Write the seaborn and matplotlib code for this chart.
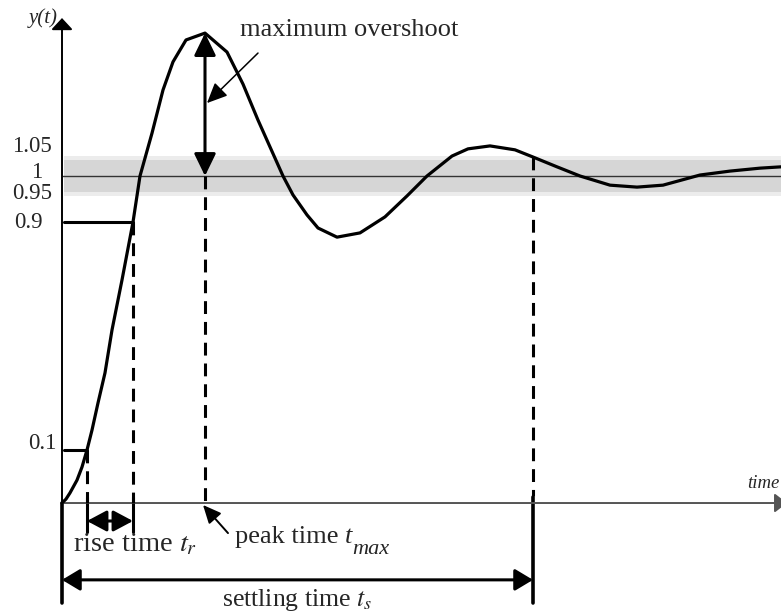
import numpy as np
import pandas as pd
import matplotlib
matplotlib.use("Agg")
import matplotlib.pyplot as plt
import seaborn as sns
from matplotlib.transforms import offset_copy

# ---------------- data ----------------
time = [0.00, 0.04, 0.08, 0.15, 0.20, 0.25, 0.30, 0.36, 0.43, 0.50, 0.60, 0.71,
        0.78, 0.90, 1.01, 1.11, 1.24, 1.43, 1.65, 1.81, 1.96, 2.21, 2.31, 2.45,
        2.56, 2.75, 2.98, 3.23, 3.45, 3.65, 3.90, 4.06, 4.28, 4.53, 4.71, 4.95,
        5.18, 5.48, 5.75, 6.01, 6.38, 6.68, 6.98, 7.19]
response = [0.000, 0.012, 0.031, 0.070, 0.110, 0.162, 0.223, 0.306, 0.398, 0.529,
            0.682, 0.859, 1.000, 1.131, 1.263, 1.349, 1.416, 1.437, 1.379, 1.281,
            1.171, 1.000, 0.942, 0.881, 0.841, 0.813, 0.826, 0.875, 0.939, 1.000,
            1.061, 1.083, 1.092, 1.080, 1.058, 1.028, 1.000, 0.972, 0.966, 0.972,
            1.003, 1.015, 1.024, 1.028]

final_value = 1.0
band_low, band_high = 0.95, 1.05
level_10 = 0.162      # drawn height of the "0.1" level
level_90 = 0.859      # drawn height of the "0.9" level
t_10, t_90 = 0.25, 0.71
t_peak, y_peak = 1.43, 1.437
t_settle, y_settle = 4.71, 1.058

tick_labels = ["1.05", "1", "0.95", "0.9", "0.1"]
tick_label_y = [1.089, 1.010, 0.945, 0.859, 0.183]
tick_label_x = [-0.10, -0.20, -0.10, -0.19, -0.05]   # right edges

# ---------------- figure ----------------
sns.set_style("white")
plt.rcParams["font.family"] = ["Liberation Serif", "DejaVu Serif"]
plt.rcParams["mathtext.fontset"] = "stix"

fig = plt.figure(figsize=(7.81, 6.14), dpi=100)
ax = fig.add_axes([0, 0, 1, 1])
ax.set_xlim(-0.62, 7.19)
ax.set_ylim(-0.3394, 1.5382)
ax.axis("off")

x_end = 7.19
# tolerance band
ax.fill_between([0.02, x_end + 0.1], band_low - 0.01, band_high + 0.01,
                color="#ececec", lw=0, zorder=1)
ax.fill_between([0.02, x_end + 0.1], band_low, band_high,
                color="#d6d6d6", lw=0, zorder=1)
ax.plot([0, x_end + 0.1], [final_value, final_value], color="#333333", lw=1.0, zorder=2)

# axes with arrows
ax.annotate("", xy=(7.25, 0), xytext=(0, 0), annotation_clip=False,
            arrowprops=dict(arrowstyle="-|>,head_length=0.75,head_width=0.58",
                            mutation_scale=10, lw=1.4, color="#555555",
                            shrinkA=0, shrinkB=0), zorder=3)
ax.annotate("", xy=(0, 1.483), xytext=(0, 0), annotation_clip=False,
            arrowprops=dict(arrowstyle="-|>,head_length=0.7,head_width=0.65",
                            mutation_scale=10, lw=1.4, color="black",
                            shrinkA=0, shrinkB=0), zorder=3)

# response curve
df = pd.DataFrame({"time": time, "response": response})
sns.lineplot(data=df, x="time", y="response", sort=False, estimator=None,
             color="black", lw=2.3, ax=ax, zorder=5)

# level lines
ax.plot([0.02, t_90], [level_90, level_90], color="black", lw=2.2, zorder=4)
ax.plot([0.02, t_10], [level_10, level_10], color="black", lw=2.2, zorder=4)

# dashed verticals
dash = dict(color="black", lw=2.2, dashes=(4.2, 2.6), zorder=4)
ax.plot([t_10, t_10], [level_10, 0], **dash)
ax.plot([t_90, t_90], [level_90, 0], **dash)
ax.plot([t_peak, t_peak], [final_value, 0], **dash)
ax.plot([t_settle, t_settle], [y_settle, 0.02], **dash)

# solid ticks below axis
ax.plot([t_10, t_10], [0.018, -0.089], color="black", lw=2.2)
ax.plot([t_90, t_90], [0.018, -0.089], color="black", lw=2.2)
ax.plot([t_settle, t_settle], [0.018, -0.306], color="black", lw=2.6)
ax.plot([0, 0], [0, -0.306], color="black", lw=2.6)

# max overshoot double arrow
ax.annotate("", xy=(t_peak, y_peak), xytext=(t_peak, final_value),
            arrowprops=dict(arrowstyle="<|-|>,head_length=0.68,head_width=0.33",
                            mutation_scale=20, lw=2.2, color="black",
                            shrinkA=0, shrinkB=0), zorder=6)
# rise time arrow
ax.annotate("", xy=(t_90, -0.055), xytext=(t_10, -0.055),
            arrowprops=dict(arrowstyle="<|-|>,head_length=0.6,head_width=0.32",
                            mutation_scale=20, lw=2.2, color="black",
                            shrinkA=0, shrinkB=0))
# settling time arrow
ax.annotate("", xy=(t_settle, -0.235), xytext=(0, -0.235),
            arrowprops=dict(arrowstyle="<|-|>,head_length=0.55,head_width=0.33",
                            mutation_scale=20, lw=2.2, color="black",
                            shrinkA=0, shrinkB=0))
# peak time pointer
ax.annotate("", xy=(t_peak - 0.02, -0.006), xytext=(t_peak + 0.23, -0.092),
            arrowprops=dict(arrowstyle="-|>,head_length=0.55,head_width=0.25",
                            mutation_scale=20, lw=1.4, color="black",
                            shrinkA=0, shrinkB=0))
# maximum overshoot pointer
ax.annotate("", xy=(t_peak + 0.02, 1.223), xytext=(t_peak + 0.53, 1.376),
            arrowprops=dict(arrowstyle="-|>,head_length=0.62,head_width=0.28",
                            mutation_scale=20, lw=1.1, color="black",
                            shrinkA=0, shrinkB=0))

# texts
ax.text(1.78, 1.446, "maximum overshoot", fontsize=19, ha="left", va="center")
ax.text(0.11, -0.128, r"rise time $t_r$", fontsize=20.5, ha="left", va="center")
ax.text(1.60, -0.297, r"settling time $t_s$", fontsize=18.5, ha="left", va="center")
ax.text(-0.045, 1.483, "y(t)", fontsize=15, style="italic", ha="right", va="center")
ax.text(7.175, 0.061, "time", fontsize=13.5, style="italic", ha="right", va="center")

# "peak time t_max" with a large subscript
pt = ax.text(1.73, -0.104, "peak time ", fontsize=19, ha="left", va="center")
fig.canvas.draw()
bb = pt.get_window_extent(renderer=fig.canvas.get_renderer())
inv = ax.transData.inverted()
x_right, _ = inv.transform((bb.x1, bb.y0))
tt = ax.text(x_right, -0.104, "t", fontsize=19, style="italic", ha="left", va="center")
fig.canvas.draw()
bb2 = tt.get_window_extent(renderer=fig.canvas.get_renderer())
x_right2, _ = inv.transform((bb2.x1, bb2.y0))
ax.text(x_right2, -0.104, "max", fontsize=16, style="italic", ha="left", va="top",
        transform=offset_copy(ax.transData, fig=fig, x=0, y=-2, units="points"))

for lab, lx, ly in zip(tick_labels, tick_label_x, tick_label_y):
    ax.text(lx, ly, lab, fontsize=16.5, ha="right", va="center")

fig.savefig("out.png", dpi=100)
